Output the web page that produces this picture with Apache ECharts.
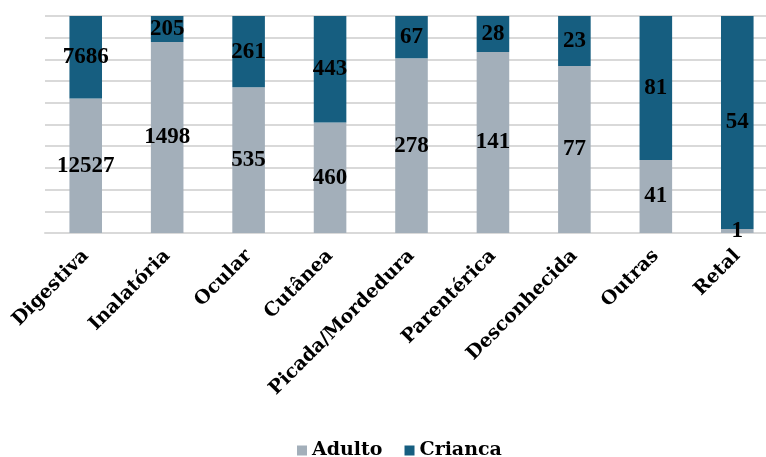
<!DOCTYPE html>
<html>
<head>
<meta charset="utf-8">
<script src="https://cdn.jsdelivr.net/npm/echarts@6/dist/echarts.min.js"></script>
<style>
  html, body { margin: 0; padding: 0; background: #ffffff; }
  #chart { width: 766px; height: 457px; }
</style>
</head>
<body>
<div id="chart"></div>
<script>
// Exposure routes and case counts by age group
const categories = ['Digestiva', 'Inalatória', 'Ocular', 'Cutânea', 'Picada/Mordedura', 'Parentérica', 'Desconhecida', 'Outras', 'Retal'];
const adulto = [12527, 1498, 535, 460, 278, 141, 77, 41, 1];
const crianca = [7686, 205, 261, 443, 67, 28, 23, 81, 54];
const seriesNames = ['Adulto', 'Crianca'];

// Shares of each route (stacked to 100%)
const totals = categories.map((_, i) => adulto[i] + crianca[i]);
const share = (arr) => arr.map((v, i) => ({ value: v / totals[i] * 100, raw: v }));

const labelStyle = {
  show: true,
  position: 'inside',
  formatter: (p) => p.data.raw,
  color: '#000000',
  fontFamily: 'Liberation Serif',
  fontWeight: 'bold',
  fontSize: 23
};

const chart = echarts.init(document.getElementById('chart'));
chart.setOption({
  animation: false,
  backgroundColor: '#ffffff',
  // plot area runs slightly past the right edge of the canvas
  grid: { left: 45, width: 733, top: 16, bottom: 224, containLabel: false, outerBoundsMode: 'none' },
  legend: {
    bottom: -8,
    left: 292,
    itemWidth: 10,
    itemHeight: 10,
    itemGap: 22,
    icon: 'rect',
    textStyle: { fontFamily: 'DejaVu Serif', fontWeight: 'bold', fontSize: 19, color: '#000000' },
    data: seriesNames
  },
  xAxis: {
    type: 'category',
    data: categories,
    axisLine: { show: true, lineStyle: { color: '#d9d9d9', width: 2 } },
    axisTick: { show: false },
    axisLabel: {
      interval: 0,
      rotate: 45,
      margin: 20,
      color: '#000000',
      fontFamily: 'DejaVu Serif',
      fontWeight: 'bold',
      fontSize: 19
    }
  },
  yAxis: {
    type: 'value',
    min: 0,
    max: 100,
    interval: 10,
    axisLabel: { show: false },
    axisLine: { show: false },
    axisTick: { show: false },
    splitLine: { lineStyle: { color: '#d9d9d9', width: 2 } }
  },
  series: [
    {
      name: seriesNames[0],
      type: 'bar',
      stack: 'total',
      barWidth: '40%',
      itemStyle: { color: '#a3afba' },
      label: labelStyle,
      data: share(adulto)
    },
    {
      name: seriesNames[1],
      type: 'bar',
      stack: 'total',
      barWidth: '40%',
      itemStyle: { color: '#165e80' },
      label: labelStyle,
      data: share(crianca)
    }
  ]
});
</script>
</body>
</html>
